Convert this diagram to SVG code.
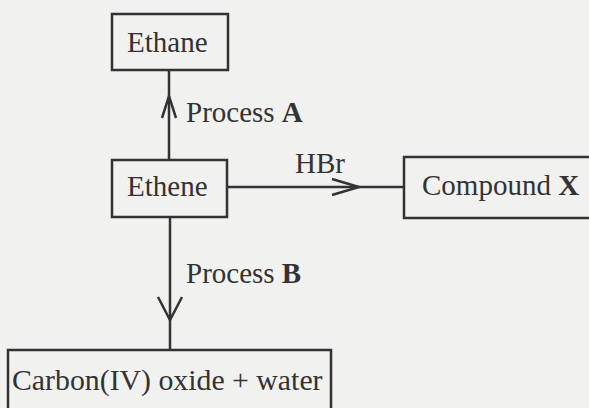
<svg xmlns="http://www.w3.org/2000/svg" width="589" height="408" viewBox="0 0 589 408">
<style>
.box{fill:none;stroke:#333;stroke-width:2.5}
.ln{fill:none;stroke:#333;stroke-width:2.5}
.ah{fill:none;stroke:#333;stroke-width:2.5;stroke-linejoin:miter}
text{font-family:"Liberation Serif","Times New Roman",serif;font-size:29px;fill:#333}
.b{font-weight:bold}
</style>
<rect width="589" height="408" fill="#f1f1f0"/>
<g id="connectors">
<line class="ln" x1="169" y1="160" x2="169" y2="70"/>
<polyline class="ah" points="162,118 169,96 176,118"/>
<line class="ln" x1="227" y1="187" x2="404" y2="187"/>
<polyline class="ah" points="332,179 359,187 332,195"/>
<line class="ln" x1="170" y1="217" x2="170" y2="350"/>
<polyline class="ah" points="158,297 170,320 182,297"/>
<text x="186" y="122">Process <tspan class="b">A</tspan></text>
<text x="295" y="173">HBr</text>
<text x="186" y="283">Process <tspan class="b">B</tspan></text>
</g>
<g id="ethane">
<rect class="box" x="112" y="14" width="116" height="56"/>
<text x="127" y="52">Ethane</text>
</g>
<g id="ethene">
<rect class="box" x="112" y="160" width="115" height="57"/>
<text x="127" y="196">Ethene</text>
</g>
<g id="compoundX">
<rect class="box" x="404" y="157" width="200" height="61"/>
<text x="422" y="195">Compound <tspan class="b">X</tspan></text>
</g>
<g id="carbon">
<rect class="box" x="8" y="350" width="323" height="70"/>
<text x="12" y="390" style="font-size:29.8px">Carbon(IV) oxide + water</text>
</g>
</svg>
